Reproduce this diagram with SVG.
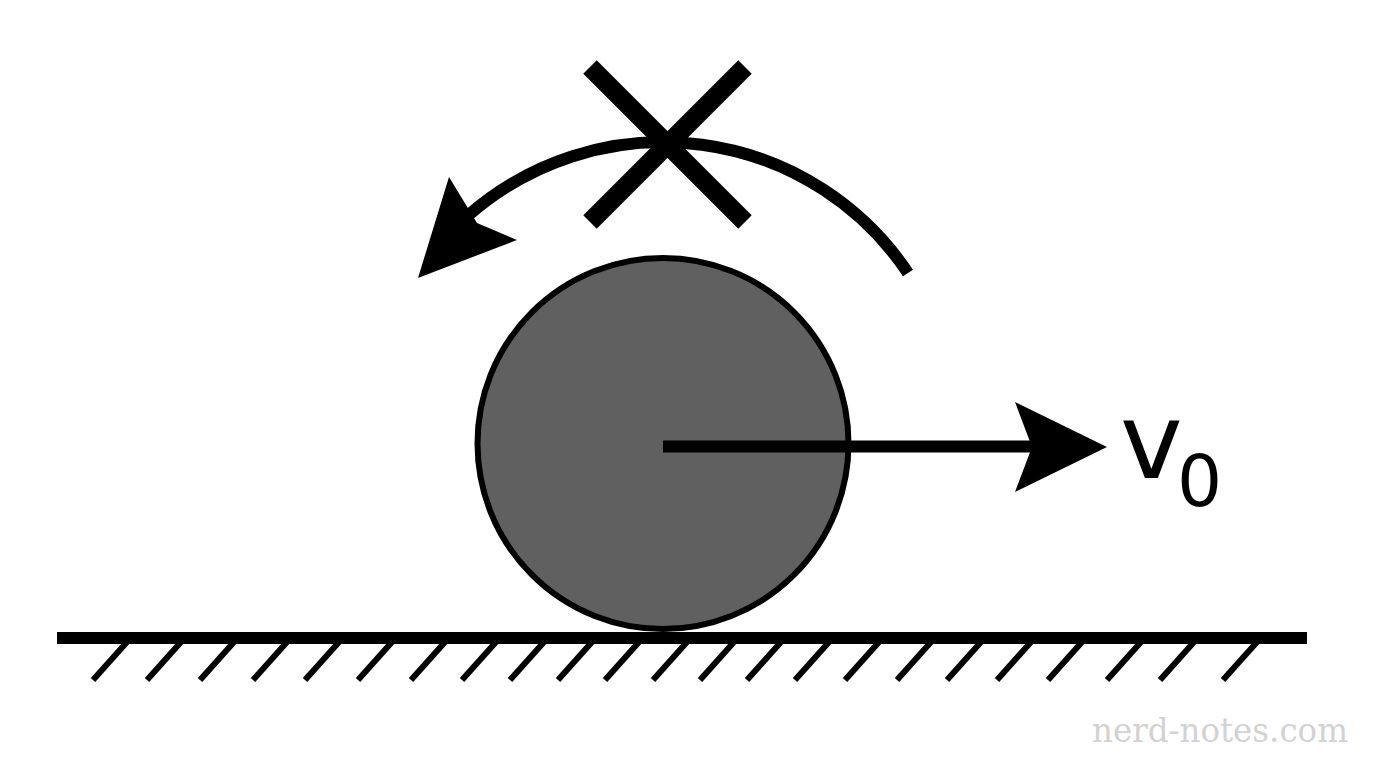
<svg xmlns="http://www.w3.org/2000/svg" width="1376" height="768" viewBox="0 0 1376 768">
  <style>
    .ink { stroke: #000; fill: none; }
    .hatch { stroke: #000; stroke-width: 6; fill: none; }
    .lbl { font-family: "DejaVu Sans", "Liberation Sans", sans-serif; fill: #000; }
    .wm { font-family: "DejaVu Serif", "Liberation Serif", serif; fill: #d2d2d2; }
  </style>
  <rect width="1376" height="768" fill="#fff"/>

  <g id="ground">
    <line x1="57" y1="638" x2="1307" y2="638" class="ink" stroke-width="12"/>
    <g id="hatches">
      <line class="hatch" x1="93" y1="680" x2="127" y2="642"/>
      <line class="hatch" x1="147" y1="680" x2="181" y2="642"/>
      <line class="hatch" x1="200" y1="680" x2="234" y2="642"/>
      <line class="hatch" x1="253" y1="680" x2="287" y2="642"/>
      <line class="hatch" x1="305" y1="680" x2="339" y2="642"/>
      <line class="hatch" x1="358" y1="680" x2="392" y2="642"/>
      <line class="hatch" x1="411" y1="680" x2="445" y2="642"/>
      <line class="hatch" x1="462" y1="680" x2="496" y2="642"/>
      <line class="hatch" x1="510" y1="680" x2="544" y2="642"/>
      <line class="hatch" x1="558" y1="680" x2="592" y2="642"/>
      <line class="hatch" x1="605" y1="680" x2="639" y2="642"/>
      <line class="hatch" x1="653" y1="680" x2="687" y2="642"/>
      <line class="hatch" x1="700" y1="680" x2="734" y2="642"/>
      <line class="hatch" x1="747" y1="680" x2="781" y2="642"/>
      <line class="hatch" x1="795" y1="680" x2="829" y2="642"/>
      <line class="hatch" x1="845" y1="680" x2="879" y2="642"/>
      <line class="hatch" x1="897" y1="680" x2="931" y2="642"/>
      <line class="hatch" x1="947" y1="680" x2="981" y2="642"/>
      <line class="hatch" x1="997" y1="680" x2="1031" y2="642"/>
      <line class="hatch" x1="1048" y1="680" x2="1082" y2="642"/>
      <line class="hatch" x1="1107" y1="680" x2="1141" y2="642"/>
      <line class="hatch" x1="1160" y1="680" x2="1194" y2="642"/>
      <line class="hatch" x1="1223" y1="680" x2="1257" y2="642"/>
    </g>
  </g>

  <g id="ball">
    <circle cx="663" cy="443.5" r="185.5" fill="#606060" stroke="#000" stroke-width="6"/>
  </g>

  <g id="connectors">
    <g id="velocity">
      <line x1="663" y1="446.5" x2="1035" y2="446.5" class="ink" stroke-width="12"/>
      <polygon points="1107,447 1015,402 1032,447 1015,492" fill="#000"/>
    </g>
    <g id="rotation">
      <path d="M 908 273 A 295 295 0 0 0 469.5 214.3" class="ink" stroke-width="12"/>
      <polygon points="418,278 449,177 477,223 517,240" fill="#000"/>
    </g>
  </g>

  <g id="cross">
    <line x1="590" y1="67" x2="745" y2="222" class="ink" stroke-width="19"/>
    <line x1="745" y1="67" x2="590" y2="222" class="ink" stroke-width="19"/>
  </g>

  <g id="label-v0">
    <text x="1120" y="478" class="lbl" font-size="106">v</text>
    <text x="1177" y="506" class="lbl" font-size="71">0</text>
  </g>

  <text x="1092" y="742" class="wm" font-size="33" textLength="256" lengthAdjust="spacingAndGlyphs">nerd-notes.com</text>
</svg>
